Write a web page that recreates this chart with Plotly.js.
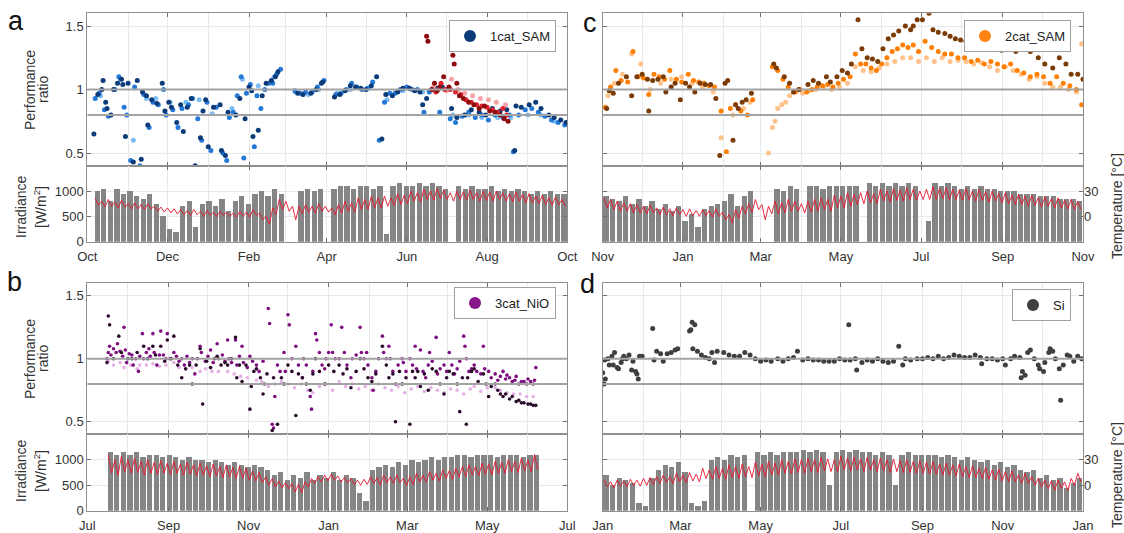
<!DOCTYPE html>
<html><head><meta charset="utf-8">
<script src="https://cdn.plot.ly/plotly-3.0.1.min.js"></script>
<style>html,body{margin:0;padding:0;background:#fff}#chart{width:1124px;height:533px}</style>
</head><body><div id="chart"></div>
<script>
// ---------- tick labels ----------
const aTickVals=['2018-10-01','2018-12-01','2019-02-01','2019-04-01','2019-06-01','2019-08-01','2019-10-01'];
const aTickText=['Oct','Dec','Feb','Apr','Jun','Aug','Oct'];
const cTickVals=['2018-11-01','2019-01-01','2019-03-01','2019-05-01','2019-07-01','2019-09-01','2019-11-01'];
const cTickText=['Nov','Jan','Mar','May','Jul','Sep','Nov'];
const bTickVals=['2019-07-01','2019-09-01','2019-11-01','2020-01-01','2020-03-01','2020-05-01','2020-07-01'];
const bTickText=['Jul','Sep','Nov','Jan','Mar','May','Jul'];
const dTickVals=['2019-01-01','2019-03-01','2019-05-01','2019-07-01','2019-09-01','2019-11-01','2020-01-01'];
const dTickText=['Jan','Mar','May','Jul','Sep','Nov','Jan'];
const prTicks=[0.5,1,1.5], irrTicks=[0,500,1000], tempTicks=[0,30], refLines=[1,0.8];

// ---------- panel a : performance ratio (days from start) ----------
const aNavyDay=[5,8,11,12,14,15,18,20,23,26,27,29,31,35,38,41,42,45,46,49,53,57,59,62,64,68,71,73,76,79,82,86,88,90,92,96,101,102,105,107,113,116,120,123,125,126,130,133,136,140,143,145,160,164,170,174,178,179,188,192,196,200,204,208,212,216,220,224,227,232,236,240,245,249,253,255,258,262,266,270,277,281,287,292,298,303,308,314,319,325,326,330,336,341,345,351,355,360,364];
const aNavyPR=[0.65,0.96,1.0,1.07,0.9,0.85,0.8,1.0,1.05,1.08,1.04,0.63,1.05,0.43,1.07,0.45,0.98,0.95,0.72,0.92,0.89,1.05,0.83,0.9,0.86,0.74,0.88,0.67,0.86,0.93,0.4,0.62,0.83,0.92,0.55,0.86,0.88,0.52,0.48,0.82,0.8,0.93,0.77,1.02,0.99,0.63,0.68,0.95,1.05,1.07,1.1,1.14,0.97,0.96,0.97,1.0,1.05,1.06,0.94,0.96,0.99,1.03,1.02,1.01,1.0,1.03,1.1,0.61,0.96,0.95,0.98,1.01,1.01,0.99,0.98,0.88,0.93,1.0,1.01,1.02,0.85,0.78,0.8,0.84,0.82,0.8,0.85,0.83,0.84,0.52,0.87,0.86,0.88,0.9,0.85,0.8,0.78,0.76,0.74];
const aBlueDay=[6,9,13,16,21,24,28,30,33,36,40,43,47,50,54,58,60,65,69,72,77,80,84,87,91,94,98,103,106,108,111,114,117,119,121,124,127,129,132,135,138,141,144,147,158,162,166,171,175,180,189,193,197,201,205,209,213,217,222,226,230,234,238,243,247,251,256,260,264,268,272,276,280,285,290,295,300,305,310,316,321,324,328,333,338,343,348,353,358,363];
const aBluePR=[0.93,0.97,0.84,0.79,1.0,1.1,0.86,0.8,0.44,1.02,0.4,0.96,0.7,0.9,0.88,1.0,0.8,0.84,0.7,0.85,0.88,0.93,0.77,0.6,0.9,0.52,0.86,0.5,0.44,0.78,0.82,0.95,1.1,0.46,0.97,1.04,0.55,0.95,0.85,1.0,1.05,1.05,1.12,1.16,0.99,0.97,0.98,0.98,1.02,1.07,0.96,0.97,1.0,1.05,1.02,1.0,1.01,1.06,0.6,0.9,0.97,0.97,1.0,1.02,1.0,1.0,0.82,0.98,1.0,0.82,1.0,0.77,0.74,0.79,0.82,0.78,0.8,0.76,0.8,0.78,0.8,0.51,0.8,0.84,0.85,0.82,0.79,0.76,0.74,0.72];
const aLightDay=[10,25,35,45,52,63,75,85,95,110,118,130,142,158,168,176,190,200,215,228,240,255,265,278,290,300,312,322,335,345,355];
const aLightPR=[0.95,1.08,0.6,0.93,0.93,0.9,0.9,0.92,0.81,0.85,1.08,1.03,1.1,0.98,0.96,1.0,0.97,1.0,1.02,0.92,0.99,0.98,0.99,0.8,0.8,0.78,0.78,0.78,0.8,0.8,0.75];
const aDkRedDay=[258,259,262,264,266,268,271,275,278,279,281,283,286,290,294,298,302,306,310,314,317,320];
const aDkRedPR=[1.42,1.38,1.0,1.05,0.99,1.02,1.1,1.02,1.27,1.2,1.05,0.95,0.93,0.9,0.88,0.85,0.87,0.83,0.82,0.8,0.77,0.75];
const aRedDay=[262,265,269,272,276,280,284,288,292,296,300,304,308,312,316,319];
const aRedPR=[1.0,0.98,1.05,1.0,1.0,0.98,0.96,0.92,0.9,0.88,0.87,0.86,0.84,0.82,0.85,0.8];
const aPinkDay=[263,267,273,277,282,287,293,299,305,311,318];
const aPinkPR=[1.02,1.0,0.99,1.08,1.0,0.97,0.95,0.93,0.92,0.9,0.88];

// ---------- panel c ----------
const cDarkDay=[3,5,8,12,18,22,26,30,34,35,38,42,46,48,52,55,59,63,66,70,74,78,82,86,89,93,95,99,101,103,106,109,113,130,132,138,142,145,149,156,160,164,170,173,178,182,186,189,194,197,201,205,209,213,217,221,225,230,234,236,239,243,248,251,255,260,264,268,272,276,281,287,292,298,303,309,314,320,325,331,336,342,347,352,356,361,365];
const cDarkPR=[0.85,0.99,0.97,1.05,1.1,0.95,1.1,1.12,1.08,0.83,1.07,1.08,1.1,0.98,1.02,1.05,0.92,1.05,1.02,0.98,1.05,1.04,1.04,0.93,0.48,1.05,1.07,0.6,0.88,0.85,0.9,0.92,0.97,1.2,1.17,1.1,1.05,0.98,1.0,1.04,1.07,1.05,1.1,1.06,1.1,1.15,1.13,1.2,1.55,1.32,1.25,1.24,1.22,1.32,1.4,1.43,1.46,1.5,1.47,1.5,1.55,1.55,1.6,1.47,1.45,1.44,1.42,1.4,1.39,1.38,1.37,1.35,1.32,1.34,1.31,1.33,1.3,1.32,1.3,1.25,1.2,1.17,1.25,1.2,1.12,1.12,1.08];
const cOrangeDay=[2,6,10,14,19,23,27,31,35,39,43,47,51,56,60,65,69,73,77,81,85,90,94,97,101,105,110,114,129,133,137,141,146,150,155,159,163,167,171,175,179,183,188,192,196,200,204,208,212,216,220,224,228,232,236,240,245,250,255,260,265,270,275,280,285,290,295,300,305,310,315,320,325,330,335,340,345,350,355,360,364];
const cOrangePR=[0.86,1.02,1.15,1.07,1.06,1.3,1.1,1.09,0.96,1.12,1.1,1.08,1.15,1.08,1.06,1.12,1.07,1.06,1.05,1.03,1.02,0.83,0.51,0.85,0.88,0.83,0.8,0.92,1.18,1.15,1.08,1.02,0.98,1.0,0.98,1.0,1.02,1.03,1.04,1.02,1.05,1.08,1.1,1.28,1.2,1.2,1.17,1.15,1.2,1.25,1.3,1.32,1.35,1.33,1.35,1.3,1.38,1.33,1.3,1.28,1.28,1.25,1.25,1.22,1.23,1.2,1.22,1.2,1.18,1.2,1.15,1.13,1.1,1.12,1.1,1.05,1.1,1.05,1.03,1.0,0.88];
const cLightDay=[4,9,15,22,29,36,44,52,60,68,76,84,90,99,107,112,126,129,131,133,136,139,142,147,152,157,162,168,174,180,186,192,198,204,210,216,222,228,234,240,246,252,258,264,270,276,282,288,294,300,306,312,318,324,330,336,342,348,354,360,364];
const cLightPR=[0.95,1.05,1.12,1.28,1.2,1.0,1.05,1.08,1.1,1.05,1.02,0.98,0.62,0.8,0.85,0.9,0.5,0.7,0.75,0.85,0.88,0.9,0.95,0.98,0.97,0.99,1.0,1.02,1.0,1.02,1.05,1.18,1.15,1.14,1.17,1.2,1.22,1.25,1.25,1.22,1.25,1.22,1.25,1.22,1.23,1.22,1.2,1.21,1.18,1.15,1.18,1.15,1.12,1.08,1.1,1.05,1.02,1.02,1.0,0.98,1.36];

// ---------- panel b ----------
const bPurpleDay=[15,16,17,18,20,22,23,25,27,28,29,30,32,34,35,37,39,40,42,43,45,47,48,50,51,53,55,56,58,60,61,63,66,68,70,72,74,76,78,80,82,84,86,87,90,92,94,96,99,100,103,105,107,108,110,113,114,116,118,119,122,124,126,129,131,134,135,138,139,141,142,143,145,147,150,151,153,154,156,159,161,164,165,167,170,171,172,174,175,177,179,181,182,184,186,187,189,192,194,196,198,201,202,205,208,209,211,213,214,217,218,220,222,225,226,228,230,231,233,235,237,240,241,243,246,248,250,251,254,256,258,260,261,263,266,267,269,272,274,276,278,280,282,284,287,288,289,291,293,295,297,300,302,303,306,308,311,313,315,317,319,320,322,324,326,327,329,331,333,335,336,338,340,341,342];
const bPurplePR=[1.0,1.05,1.1,1.03,1.08,1.05,1.12,1.06,1.02,1.25,1.07,0.97,1.04,1.03,0.95,1.0,0.9,1.02,1.2,1.0,1.05,1.08,1.02,1.2,1.05,0.95,1.03,1.22,1.03,1.0,1.2,1.0,1.05,1.02,0.98,1.0,0.95,1.02,0.97,1.0,0.88,1.0,1.1,1.05,0.98,1.02,1.07,0.97,1.12,1.0,1.03,0.98,1.15,1.0,0.97,1.15,0.95,1.02,1.1,0.97,0.93,1.02,0.98,0.95,0.9,0.98,0.8,1.4,1.28,0.48,0.45,0.7,0.95,0.9,1.05,0.9,1.35,1.27,1.0,1.1,0.95,0.85,1.0,0.95,0.7,0.6,0.9,1.2,1.15,1.05,0.95,0.92,1.0,1.05,1.27,1.05,1.0,1.0,1.25,1.05,0.95,0.85,1.0,1.03,1.25,1.05,1.0,1.05,0.95,0.85,0.75,0.9,1.0,1.18,1.05,1.0,1.1,1.0,0.9,0.8,0.95,1.0,0.97,0.9,1.0,0.95,1.1,0.92,1.07,0.9,0.85,0.95,1.05,0.98,1.17,0.88,0.92,0.95,0.9,1.05,0.95,0.88,0.92,0.98,1.18,1.1,1.0,0.9,0.92,0.95,0.9,0.88,1.1,0.92,0.9,0.85,0.88,0.83,0.86,0.9,0.84,0.87,0.85,0.82,0.83,0.86,0.8,0.82,0.82,0.8,0.84,0.82,0.8,0.83,0.93];
const bDarkDay=[15,16,17,20,24,26,31,34,38,43,46,50,52,56,59,61,64,66,69,72,75,78,80,83,86,88,91,94,97,99,102,105,107,110,113,114,116,118,121,124,125,127,129,132,134,137,141,142,145,148,150,153,156,159,161,164,167,170,172,174,177,181,184,188,192,195,198,201,205,208,211,214,217,220,225,228,230,233,235,238,240,243,246,248,250,252,254,257,260,263,266,269,272,274,276,279,282,284,286,289,290,293,295,298,302,304,306,308,311,313,315,317,319,322,324,327,329,331,333,336,338,340,342];
const bDarkPR=[0.97,1.34,1.27,1.0,1.18,1.05,1.0,1.0,1.05,1.1,1.0,1.1,1.03,1.1,0.98,1.15,1.0,1.18,0.95,0.85,0.92,0.95,0.8,0.95,1.08,0.64,0.98,0.93,1.0,1.02,0.95,0.97,0.95,1.0,1.17,0.85,0.95,0.82,0.95,0.6,0.78,0.9,0.92,0.85,0.72,0.88,0.43,0.85,0.48,0.85,0.8,0.95,0.9,0.55,0.88,0.85,0.8,0.75,0.88,1.0,0.9,0.8,0.95,0.9,0.95,0.88,0.92,0.77,0.9,1.0,0.92,0.85,0.82,0.88,1.1,0.95,0.85,0.88,0.5,0.9,0.8,0.85,0.48,0.9,0.85,0.9,0.78,0.88,0.75,0.92,0.9,0.8,0.72,0.85,0.9,0.88,0.8,0.58,0.85,0.48,0.85,0.9,0.92,0.82,0.88,0.8,0.7,0.78,0.8,0.75,0.72,0.7,0.72,0.68,0.7,0.66,0.67,0.65,0.65,0.64,0.64,0.63,0.63];
const bPinkDay=[16,20,25,28,33,38,40,45,50,55,60,66,70,75,80,86,90,95,100,107,112,117,122,129,133,138,143,148,153,158,163,168,172,177,182,187,192,197,202,207,212,217,222,227,232,237,242,247,252,257,262,267,272,277,282,287,292,295,300,305,311,315,320,325,330,335,340];
const bPinkPR=[0.98,0.95,0.97,0.93,0.95,0.92,0.95,0.95,0.96,0.94,0.95,0.97,0.93,0.92,0.93,0.9,0.92,0.9,0.9,0.9,0.88,0.86,0.85,0.83,0.82,0.78,0.8,0.82,0.8,0.77,0.8,0.75,0.73,0.78,0.8,0.75,0.82,0.78,0.8,0.76,0.78,0.75,0.8,0.77,0.75,0.78,0.73,0.76,0.78,0.74,0.77,0.75,0.73,0.76,0.75,0.72,0.76,0.78,0.74,0.77,0.77,0.75,0.73,0.72,0.72,0.7,0.7];

// ---------- panel d ----------
const dDay=[0,1,1.5,2,4,5,7,8,9,11,12,14,15,16,18,20,22,23,25,26,27,28,30,38,39,41,44,46,49,52,55,57,66,67,68,68.5,70,72,75,78,81,83,85,87,92,96,100,104,108,112,116,120,124,128,133,137,141,145,148,152,156,160,164,168,172,176,180,184,187,188,192,193,197,201,205,209,213,217,221,225,228,230,234,239,243,247,251,255,259,263,267,271,275,279,283,287,288,292,296,300,304,306,310,313,317,318,319,321,323,325,328,331,332,335,336,339,340,342,344,347,348,350,353,355,358,361,364];
const dPR=[0.89,0.8,0.99,0.84,1.0,0.95,1.02,0.95,1.05,0.93,0.92,0.97,1.0,1.02,1.0,1.03,0.91,0.98,0.9,0.88,0.84,1.02,1.02,1.24,0.99,1.06,1.04,0.98,1.04,1.05,1.07,1.08,1.22,1.23,1.29,1.08,1.27,1.06,1.03,1.01,1.0,1.05,0.97,1.06,1.05,1.03,1.02,1.02,1.05,1.03,1.0,0.98,0.99,0.98,1.0,0.98,1.0,1.01,1.06,0.99,1.0,0.99,0.99,0.98,0.98,0.98,1.0,0.99,1.27,0.99,1.0,0.91,0.97,0.99,0.98,1.0,0.98,0.97,0.98,1.1,0.95,1.0,0.99,1.0,1.0,1.01,1.0,1.02,1.0,1.01,1.03,1.02,1.01,1.01,1.03,1.01,0.96,1.0,1.0,0.99,1.0,0.95,1.0,1.02,1.01,0.85,0.9,0.87,1.05,1.07,1.0,0.95,0.92,0.9,0.97,1.05,1.08,1.06,1.0,0.92,0.67,0.95,1.03,1.02,0.98,1.02,1.0];

// ---------- irradiance (W/m2, 5-day bins) and temperature (degC, 5-day high / low) ----------
const aIrr=[0,1000,1050,800,1050,950,1000,900,850,950,750,500,250,200,700,800,300,750,800,700,850,600,800,900,750,950,1000,900,1050,950,0,0,1000,1050,1000,1050,0,1050,1100,1100,1050,1100,1100,1050,1100,150,1100,1150,1100,1100,1150,1100,1150,1100,1050,0,1100,1050,1100,1050,1050,1100,1000,1050,1000,1050,1000,950,1000,950,1000,950,950];
const aTHi=[null,22,18,20,17,19,15,16,14,15,12,11,10,9,8,7,8,6,7,5,6,5,4,6,5,8,4,0,10,20,18,12,12,14,12,15,12,10,14,18,16,22,20,24,22,24,22,27,25,30,28,32,30,33,31,28,30,29,31,28,30,29,30,28,27,29,26,27,24,25,22,23,20];
const aTLo=[null,13,11,12,10,11,9,9,8,9,6,5,4,3,2,1,2,0,1,0,1,0,-1,0,-1,1,-4,-9,2,8,6,-4,3,5,4,6,5,2,4,6,5,8,8,10,10,12,13,14,15,18,17,20,19,21,20,18,20,19,20,18,19,18,20,18,17,18,16,16,15,14,13,14,12];
const cIrr=[900,850,800,900,750,850,700,800,650,750,600,700,400,550,300,650,700,750,800,950,700,900,1000,0,0,0,1050,1000,1100,1050,0,1100,1100,1050,1100,1100,1100,1100,1100,0,1150,1100,1150,1100,1150,1100,1150,1100,0,400,1150,1100,1150,1100,1050,1100,1050,1100,1050,1050,1000,1000,1000,950,950,950,900,900,900,850,850,850,800];
const cTHi=[22,20,18,16,15,14,12,13,10,11,9,10,8,9,7,8,7,9,5,2,8,12,15,20,14,12,18,16,20,18,15,18,20,22,20,25,24,28,26,28,30,27,32,30,33,31,34,32,30,32,35,33,34,32,31,33,30,32,29,30,27,28,25,26,24,25,22,23,21,22,19,20,18];
const cTLo=[10,8,6,6,4,4,3,4,2,2,1,2,0,1,0,1,-1,0,-4,-8,-2,3,5,8,-4,3,3,4,6,6,4,5,6,8,6,10,10,12,14,15,16,15,18,17,19,18,20,19,20,20,20,21,20,20,19,20,18,19,17,18,16,15,14,14,12,13,11,12,10,10,9,8,8];
const bIrr=[0,0,0,1150,1100,1150,1100,1150,1050,1100,1100,1050,1100,1050,1000,1050,1000,1000,950,1000,950,900,950,900,850,900,850,800,700,750,600,700,650,750,600,700,650,750,600,700,650,350,200,800,850,900,850,950,900,1000,950,1000,1050,1000,1050,1050,1100,1100,1050,1100,1100,1100,1050,1100,1100,1100,1050,1100,1100,0,0,0,0];
const bTHi=[null,null,null,36,30,34,30,32,28,30,27,29,26,28,25,27,24,26,23,25,22,24,21,22,20,17,15,10,8,5,3,2,1,4,8,10,12,13,11,9,8,6,7,10,9,12,10,12,8,10,14,12,16,14,18,17,20,22,24,22,26,25,28,27,30,28,32,30,36,null,null,null,null];
const bTLo=[null,null,null,14,12,16,14,15,12,14,13,14,12,14,12,13,11,12,10,11,9,10,8,8,6,5,3,0,-2,-3,-4,-8,-9,-2,2,4,5,6,4,3,1,0,1,2,0,3,2,3,0,1,4,4,6,5,8,7,10,10,12,11,13,12,14,14,16,15,17,16,18,null,null,null,null];
const dIrr=[700,500,650,600,550,150,100,650,800,900,850,950,750,150,100,200,1000,1050,1000,1100,1050,1100,0,1150,1100,1150,1100,1150,1150,1150,1200,1150,1200,1150,500,1150,1200,1150,1200,1150,1150,1100,1150,1100,500,1100,1150,1100,1100,1100,1100,1050,1100,1050,1000,1050,1000,950,1000,900,950,850,900,800,750,800,650,700,600,650,450,550,650];
const dTHi=[6,4,6,5,7,6,8,9,10,12,10,14,12,15,13,20,18,22,20,24,22,25,22,27,25,28,26,30,28,31,30,32,30,33,31,30,34,32,33,31,33,30,32,30,31,29,30,28,29,27,28,25,26,24,25,22,23,20,21,18,19,16,17,12,14,10,8,6,5,6,4,8,14];
const dTLo=[-2,-3,-1,-2,0,-1,0,1,2,3,2,4,3,5,4,8,7,8,7,9,8,10,9,11,10,12,12,14,13,15,14,16,15,17,16,16,18,17,18,16,18,16,17,15,16,15,15,14,14,13,13,12,12,11,10,9,9,8,7,6,5,4,4,2,2,0,-2,-4,-6,-4,-6,0,4];

// ---------- build ----------
const DAY=864e5, BIN=5, W=1124, H=533;
const FONT='Liberation Sans, Arial, sans-serif';
const colL=[87.3/W,567.3/W], colR=[602.7/W,1083/W];
const topRow1=[1-165.7/H,1-13.3/H], botRow1=[1-241.7/H,1-165.7/H];
const topRow2=[1-434.3/H,1-283.3/H], botRow2=[1-510.7/H,1-434.3/H];

const panels=[
 {start:'2018-10-01',end:'2019-10-01',xd:colL,td:topRow1,bd:botRow1,tv:aTickVals,tt:aTickText,left:true,tempLab:false,irr:aIrr,hi:aTHi,lo:aTLo,size:5,
  leg:{name:'1cat_SAM',color:'#0b3b78',right:556,top:20},
  series:[[aLightDay,aLightPR,'#7dbdf3'],[aBlueDay,aBluePR,'#2478d6'],[aNavyDay,aNavyPR,'#0b3b78'],[aPinkDay,aPinkPR,'#f5a5a8'],[aRedDay,aRedPR,'#e3222d'],[aDkRedDay,aDkRedPR,'#8e0c10']]},
 {start:'2018-11-01',end:'2019-11-01',xd:colR,td:topRow1,bd:botRow1,tv:cTickVals,tt:cTickText,left:false,tempLab:true,irr:cIrr,hi:cTHi,lo:cTLo,size:5,
  leg:{name:'2cat_SAM',color:'#ff8412',right:1071,top:20},
  series:[[cLightDay,cLightPR,'#ffc28a'],[cOrangeDay,cOrangePR,'#ff8000'],[cDarkDay,cDarkPR,'#7a3b05']]},
 {start:'2019-07-01',end:'2020-07-01',xd:colL,td:topRow2,bd:botRow2,tv:bTickVals,tt:bTickText,left:true,tempLab:false,irr:bIrr,hi:bTHi,lo:bTLo,size:3.6,
  leg:{name:'3cat_NiO',color:'#86168a',right:556,top:287},
  series:[[bPinkDay,bPinkPR,'#e6b0e6'],[bPurpleDay,bPurplePR,'#7f0f80'],[bDarkDay,bDarkPR,'#2a0b2a']]},
 {start:'2019-01-01',end:'2020-01-01',xd:colR,td:topRow2,bd:botRow2,tv:dTickVals,tt:dTickText,left:false,tempLab:true,irr:dIrr,hi:dTHi,lo:dTLo,size:5,
  leg:{name:'Si',color:'#3f3f3f',right:1071,top:289},
  series:[[dDay,dPR,'#3f3f3f']]}
];

const toX=(start,days)=>{const t0=Date.parse(start);return days.map(d=>t0+d*DAY);};
const an=(p,n)=>n===1?p:p+n;
const traces=[], layout={
  width:W,height:H,margin:{l:0,r:0,t:0,b:0},paper_bgcolor:'#fff',plot_bgcolor:'#fff',
  font:{family:FONT,size:13,color:'#333'},showlegend:true,shapes:[],annotations:[],bargap:0
};
const LINE='#8f8f8f', GRID='#e9e9e9', TICKC='#6f6f6f';

panels.forEach((p,k)=>{
  const xt=2*k+1, xb=2*k+2, yt=3*k+1, yb=3*k+2, yT=3*k+3;
  const legKey=k===0?'legend':'legend'+(k+1);
  p.series.forEach(s=>traces.push({type:'scatter',mode:'markers',x:toX(p.start,s[0]),y:s[1],
    xaxis:an('x',xt),yaxis:an('y',yt),marker:{size:p.size,color:s[2],line:{width:0}},showlegend:false,hoverinfo:'skip'}));
  traces.push({type:'scatter',mode:'markers',x:[null],y:[null],xaxis:an('x',xt),yaxis:an('y',yt),
    marker:{size:12,color:p.leg.color},name:p.leg.name,legend:legKey,showlegend:true});
  const t0=Date.parse(p.start);
  traces.push({type:'bar',x:p.irr.map((v,i)=>t0+(i*BIN+BIN/2)*DAY),y:p.irr,width:BIN*DAY*0.8,
    xaxis:an('x',xb),yaxis:an('y',yb),marker:{color:'#858585',line:{width:0}},showlegend:false,hoverinfo:'skip'});
  const tx=[],ty=[];
  p.hi.forEach((v,i)=>{ if(v===null) return; tx.push(t0+(i*BIN+1)*DAY,t0+(i*BIN+3.5)*DAY); ty.push(v,p.lo[i]); });
  traces.push({type:'scatter',mode:'lines',x:tx,y:ty,xaxis:an('x',xb),yaxis:an('y',yT),
    line:{color:'#e4172f',width:1},opacity:0.9,showlegend:false,hoverinfo:'skip'});

  const xbase={type:'date',range:[p.start,p.end],domain:p.xd,showline:true,linecolor:LINE,linewidth:1,mirror:'ticks',
    ticks:'inside',ticklen:4,tickcolor:TICKC,tickmode:'array',tickvals:p.tv,ticktext:p.tt,showgrid:true,gridcolor:GRID,zeroline:false,
    minor:{tickmode:'linear',tick0:p.start,dtick:'M1',showgrid:true,gridcolor:GRID,ticks:''},fixedrange:true};
  layout[an('xaxis',xt)]=Object.assign({},xbase,{anchor:an('y',yt),showticklabels:false});
  layout[an('xaxis',xb)]=Object.assign({},xbase,{anchor:an('y',yb),showticklabels:true,tickfont:{size:13,color:'#333'},ticklabelstandoff:3});
  layout[an('yaxis',yt)]={domain:p.td,anchor:an('x',xt),range:[0.4,1.6],tickmode:'array',tickvals:prTicks,ticktext:prTicks.map(String),
    showticklabels:p.left,ticks:'inside',ticklen:4,tickcolor:TICKC,showline:true,linecolor:LINE,mirror:'ticks',showgrid:true,gridcolor:GRID,zeroline:false,
    tickfont:{size:13,color:'#333'},fixedrange:true};
  layout[an('yaxis',yb)]={domain:p.bd,anchor:an('x',xb),range:[0,1500],tickmode:'array',tickvals:irrTicks,ticktext:irrTicks.map(String),
    showticklabels:p.left,ticks:'inside',ticklen:4,tickcolor:TICKC,showline:true,linecolor:LINE,mirror:'ticks',showgrid:true,gridcolor:GRID,zeroline:false,
    tickfont:{size:13,color:'#333'},fixedrange:true};
  layout[an('yaxis',yT)]={overlaying:an('y',yb),anchor:an('x',xb),side:'right',range:[-30,60],tickmode:'array',tickvals:tempTicks,ticktext:tempTicks.map(String),
    showticklabels:p.tempLab,ticks:'',showline:false,showgrid:false,zeroline:false,tickfont:{size:13,color:'#333'},fixedrange:true};

  refLines.forEach(v=>layout.shapes.push({type:'line',xref:an('x',xt),x0:p.start,x1:p.end,yref:an('y',yt),y0:v,y1:v,
    line:{color:'#a3a3a3',width:2},layer:'above'}));

  layout[legKey]={x:p.leg.right/W,xanchor:'right',y:1-p.leg.top/H,yanchor:'top',bgcolor:'#fff',bordercolor:'#a0a0a0',borderwidth:1,
    font:{family:FONT,size:13,color:'#222'},itemsizing:'trace',tracegroupgap:0};
});

// ---------- text annotations ----------
const ann=(text,px,py,opt)=>layout.annotations.push(Object.assign({text,xref:'paper',yref:'paper',x:px/W,y:1-py/H,
  xanchor:'center',yanchor:'middle',showarrow:false,font:{family:FONT,size:14,color:'#333'}},opt||{}));
ann('a',16,21,{font:{family:FONT,size:27,color:'#111'}});
ann('c',590,23,{font:{family:FONT,size:27,color:'#111'}});
ann('b',14,282,{font:{family:FONT,size:27,color:'#111'}});
ann('d',587,284,{font:{family:FONT,size:27,color:'#111'}});
[[90,207],[359,471]].forEach(r=>{
  ann('Performance',30,r[0],{textangle:-90});
  ann('ratio',43,r[0],{textangle:-90});
  ann('Irradiance',21,r[1],{textangle:-90});
  ann('[W/m<sup>2</sup>]',40,r[1],{textangle:-90});
});
ann('Temperature [°C]',1117,206,{textangle:-90});
ann('Temperature [°C]',1117,475,{textangle:-90});

Plotly.newPlot('chart',traces,layout,{staticPlot:true,displayModeBar:false});
</script></body></html>
